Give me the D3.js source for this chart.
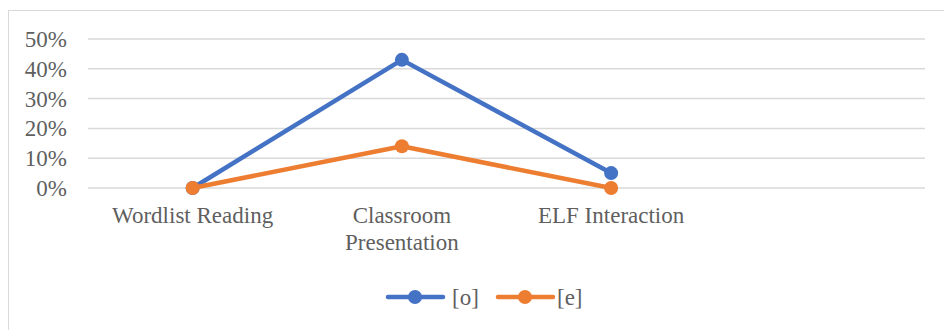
<!DOCTYPE html>
<html>
<head>
<meta charset="utf-8">
<script src="https://cdn.jsdelivr.net/npm/d3@7"></script>
<style>
  html, body { margin: 0; padding: 0; background: #fff; }
  svg text { font-family: "Liberation Serif", "Times New Roman", serif; fill: #5f5f5f; }
</style>
</head>
<body>
<svg id="chart" width="944" height="330"></svg>
<script>
// Categories along the x axis (the last slot is left empty)
const categories = ["Wordlist Reading", "Classroom Presentation", "ELF Interaction", ""];
const labelLines = [["Wordlist Reading"], ["Classroom", "Presentation"], ["ELF Interaction"], []];
// Series values (share of tokens)
const seriesO = [0, 0.43, 0.05];
const seriesE = [0, 0.14, 0];
const seriesNames = ["[o]", "[e]"];
const seriesColors = ["#4472C4", "#ED7D31"];
const yTicks = [0, 0.1, 0.2, 0.3, 0.4, 0.5];

const FONT = '"Liberation Serif", "Times New Roman", serif';
const TEXT = "#5f5f5f";
const svg = d3.select("#chart");

// Chart area frame
svg.append("rect")
  .attr("x", 8.5).attr("y", 10.5)
  .attr("width", 960).attr("height", 340)
  .attr("fill", "none").attr("stroke", "#d9d9d9").attr("stroke-width", 1);

const plot = { left: 88, right: 925, top: 39, bottom: 188 };

const x = d3.scaleBand().domain(categories.map((c, i) => i)).range([plot.left, plot.right]);
const y = d3.scaleLinear().domain([0, 0.5]).range([plot.bottom, plot.top]);
const cx = i => x(i) + x.bandwidth() / 2;

// Gridlines
svg.append("g")
  .selectAll("line").data(yTicks).join("line")
  .attr("x1", plot.left).attr("x2", plot.right)
  .attr("y1", d => y(d)).attr("y2", d => y(d))
  .attr("stroke", "#d9d9d9").attr("stroke-width", 1.5);

// Y axis labels
const yAxis = d3.axisLeft(y).tickValues(yTicks).tickFormat(d3.format(".0%")).tickSize(0).tickPadding(0);
const yg = svg.append("g").attr("transform", `translate(67,0)`).call(yAxis)
  .attr("font-family", FONT).attr("font-size", 23);
yg.select(".domain").remove();
yg.selectAll("text").attr("dy", "0.33em").attr("fill", TEXT);

// X axis labels
const xg = svg.append("g").attr("font-family", FONT).attr("font-size", 23);
labelLines.forEach((lines, i) => {
  const t = xg.append("text")
    .attr("text-anchor", "middle")
    .attr("x", cx(i))
    .attr("y", 223);
  lines.forEach((ln, j) => {
    t.append("tspan").attr("x", cx(i)).attr("dy", j === 0 ? 0 : 27).text(ln);
  });
});

// Lines and markers
const line = d3.line().x((d, i) => cx(i)).y(d => y(d));
[seriesO, seriesE].forEach((vals, s) => {
  const g = svg.append("g");
  g.append("path").datum(vals)
    .attr("d", line)
    .attr("fill", "none")
    .attr("stroke", seriesColors[s])
    .attr("stroke-width", 4.5)
    .attr("stroke-linejoin", "round");
  g.selectAll("circle").data(vals).join("circle")
    .attr("cx", (d, i) => cx(i))
    .attr("cy", d => y(d))
    .attr("r", 7)
    .attr("fill", seriesColors[s]);
});

// Legend
const legendItems = [{ x0: 388, tx: 452, name: seriesNames[0], color: seriesColors[0] },
                     { x0: 498, tx: 557, name: seriesNames[1], color: seriesColors[1] }];
const ly = 297;
legendItems.forEach(it => {
  const g = svg.append("g");
  g.append("line").attr("x1", it.x0).attr("x2", it.x0 + 55)
    .attr("y1", ly).attr("y2", ly)
    .attr("stroke", it.color).attr("stroke-width", 4.5).attr("stroke-linecap", "round");
  g.append("circle").attr("cx", it.x0 + 27).attr("cy", ly).attr("r", 7).attr("fill", it.color);
  g.append("text").attr("x", it.tx).attr("y", ly).attr("dy", "0.33em")
    .attr("font-family", FONT).attr("font-size", 23).attr("fill", TEXT).text(it.name);
});
</script>
</body>
</html>
